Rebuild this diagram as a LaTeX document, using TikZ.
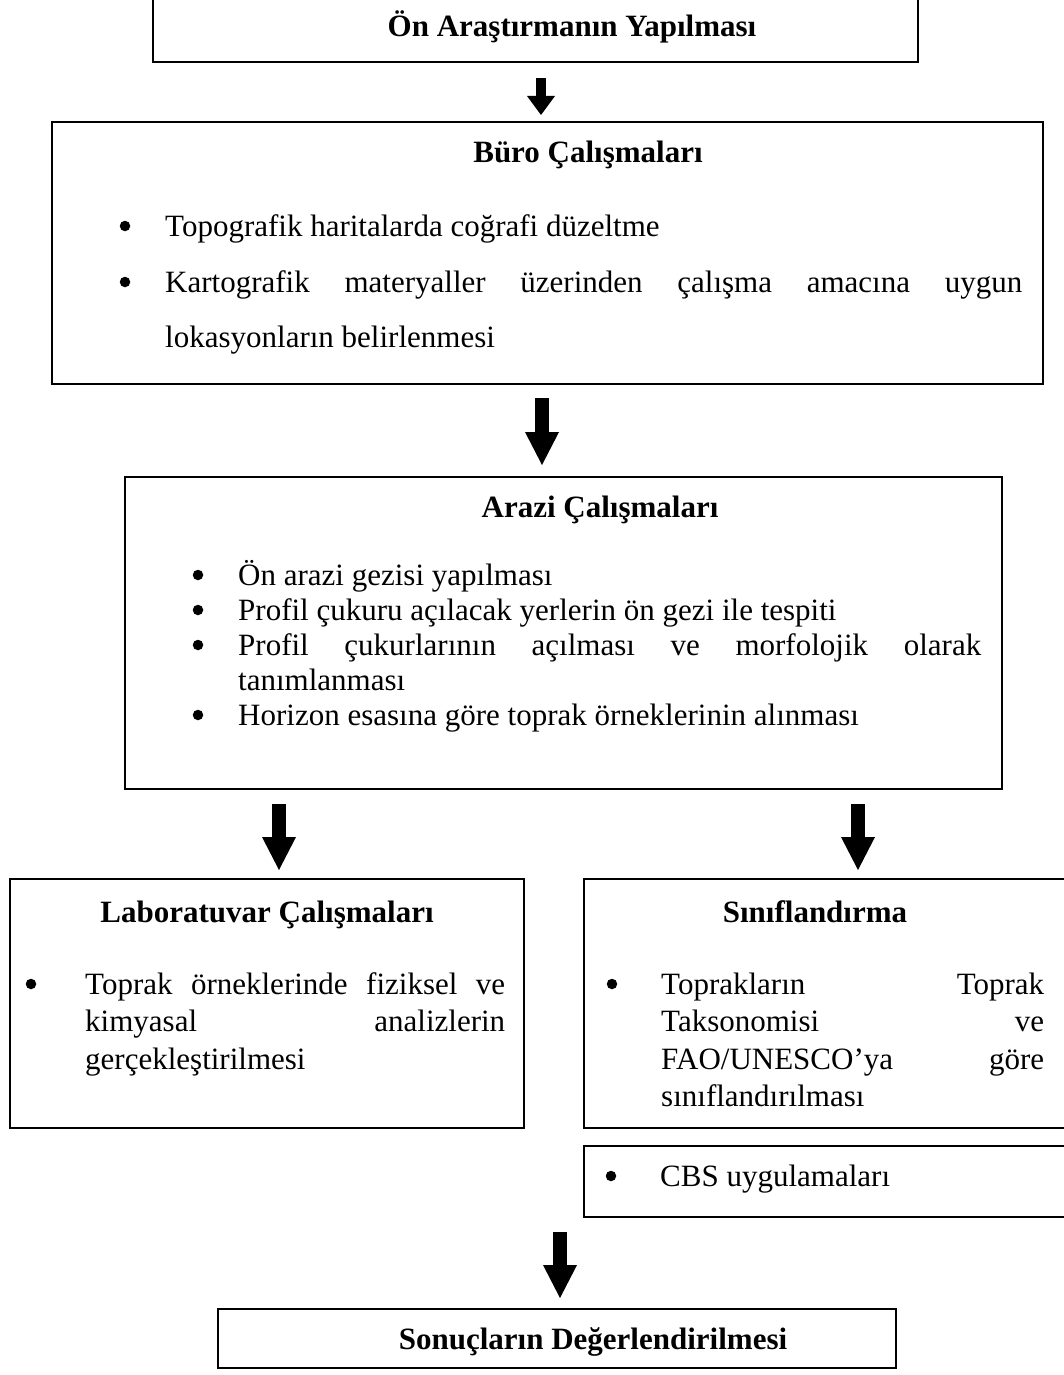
\documentclass[tikz,border=0pt]{standalone}
\usepackage{fontspec}
\setmainfont{Liberation Serif}
\usetikzlibrary{arrows.meta}
\tikzset{
  box/.style={draw=black, line width=1.5pt, inner sep=0pt, outer sep=0pt, anchor=north west, rectangle},
  txt/.style={inner sep=0pt, anchor=base west, font=\fontsize{31}{35}\selectfont},
  ttl/.style={inner sep=0pt, anchor=base, font=\fontsize{31}{35}\selectfont\bfseries},
  bul/.style={circle, fill=black, inner sep=0pt, minimum size=10.5pt},
  bigarrow/.style={line width=14pt, -{Triangle[width=34pt,length=33pt,line width=0pt]}},
  smallarrow/.style={line width=10pt, -{Triangle[width=28pt,length=19pt,line width=0pt]}},
}
\begin{document}
\begin{tikzpicture}[x=1pt,y=-1pt]
\path[use as bounding box, fill=white] (0,0) rectangle (1063,1375);

% boxes
\node[box, minimum width=765pt, minimum height=82pt] (b1) at (153,-20) {};
\node[box, minimum width=991pt, minimum height=262pt] (b2) at (52,122) {};
\node[box, minimum width=877pt, minimum height=312pt] (b3) at (125,477) {};
\node[box, minimum width=514pt, minimum height=249pt] (b4) at (10,879) {};
\node[box, minimum width=520pt, minimum height=249pt] (b5) at (584,879) {};
\node[box, minimum width=520pt, minimum height=71pt] (b6) at (584,1146) {};
\node[box, minimum width=678pt, minimum height=59pt] (b7) at (218,1309) {};

% box 1
\node[ttl] (t1) at (572,37) {Ön Araştırmanın Yapılması};

% box 2
\node[ttl] (t2) at (588,163) {Büro Çalışmaları};
\node[bul] (d21) at (125,226) {};
\node[txt] (p21) at (165,236) {Topografik haritalarda coğrafi düzeltme};
\node[bul] (d22) at (125,282) {};
\node[txt, font=\fontsize{31}{55.5}\selectfont] (p22) at (165,292)
  {\parbox[t]{857pt}{\makebox[857pt][s]{Kartografik materyaller üzerinden çalışma amacına uygun}\\lokasyonların belirlenmesi}};

% box 3
\node[ttl] (t3) at (600,517) {Arazi Çalışmaları};
\node[bul] (d31) at (198,575) {};
\node[txt] (p31) at (238,585) {Ön arazi gezisi yapılması};
\node[bul] (d32) at (198,610) {};
\node[txt] (p32) at (238,620) {Profil çukuru açılacak yerlerin ön gezi ile tespiti};
\node[bul] (d33) at (198,645) {};
\node[txt] (p33) at (238,655)
  {\parbox[t]{743pt}{\makebox[743pt][s]{Profil çukurlarının açılması ve morfolojik olarak}\\tanımlanması}};
\node[bul] (d34) at (198,715) {};
\node[txt] (p34) at (238,725) {Horizon esasına göre toprak örneklerinin alınması};

% box 4
\node[ttl] (t4) at (267,922) {Laboratuvar Çalışmaları};
\node[bul] (d41) at (31,984) {};
\node[txt, font=\fontsize{31}{37.5}\selectfont] (p41) at (85,994)
  {\parbox[t]{420pt}{\makebox[420pt][s]{Toprak örneklerinde fiziksel ve}\\\makebox[420pt][s]{kimyasal analizlerin}\\gerçekleştirilmesi}};

% box 5
\node[ttl] (t5) at (815,922) {Sınıflandırma};
\node[bul] (d51) at (612,984) {};
\node[txt, font=\fontsize{31}{37.5}\selectfont] (p51) at (661,994)
  {\parbox[t]{383pt}{\makebox[383pt][s]{Toprakların Toprak}\\\makebox[383pt][s]{Taksonomisi ve}\\\makebox[383pt][s]{FAO/UNESCO’ya göre}\\sınıflandırılması}};

% box 6
\node[bul] (d61) at (611,1176) {};
\node[txt] (p61) at (660,1186) {CBS uygulamaları};

% box 7
\node[ttl] (t7) at (593,1349) {Sonuçların Değerlendirilmesi};

% arrows
\coordinate (a4s) at (560,1232);
\draw[smallarrow, shorten <=16pt, shorten >=7pt] ([xshift=5.5pt]b1.south) -- ([xshift=-6.5pt]b2.north);
\draw[bigarrow, shorten <=14pt, shorten >=12pt] ([xshift=-5.5pt]b2.south) -- ([xshift=-21.5pt]b3.north);
\draw[bigarrow, shorten <=15pt, shorten >=9pt] ([xshift=-284.5pt]b3.south) -- ([xshift=12pt]b4.north);
\draw[bigarrow, shorten <=15pt, shorten >=9pt] ([xshift=294.5pt]b3.south) -- ([xshift=14pt]b5.north);
\draw[bigarrow, shorten >=11pt] (a4s) -- ([xshift=3pt]b7.north);
\end{tikzpicture}
\end{document}
